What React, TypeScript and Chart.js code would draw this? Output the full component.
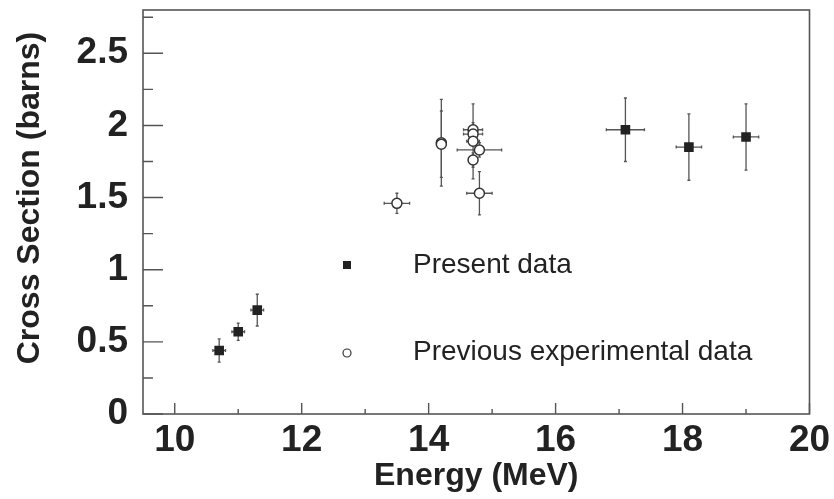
import React, { useEffect, useRef } from "react";
import { Chart, registerables } from "chart.js";

Chart.register(...registerables);

// ---- Data ----
const presentEnergy = [10.7, 11.0, 11.3, 17.1, 18.1, 19.0];
const presentXs = [0.44, 0.57, 0.72, 1.97, 1.85, 1.92];
const presentEnergyErr = [0.1, 0.1, 0.1, 0.3, 0.2, 0.2];
const presentXsErr = [0.08, 0.06, 0.11, 0.22, 0.23, 0.23];

const previousEnergy = [13.5, 14.2, 14.2, 14.7, 14.7, 14.7, 14.7, 14.8, 14.8];
const previousXs = [1.46, 1.88, 1.87, 1.97, 1.94, 1.89, 1.76, 1.83, 1.53];
const previousEnergyErr = [0.2, 0.05, 0.05, 0.15, 0.15, 0.1, 0.05, 0.35, 0.2];
const previousXsErr = [0.07, 0.3, 0.23, 0.05, 0.05, 0.26, 0.05, 0.05, 0.15];

const xTickValues = [10, 12, 14, 16, 18, 20];
const yTickValues = [0, 0.5, 1, 1.5, 2, 2.5];

const legendLabels = ["Present data", "Previous experimental data"];
const xTitle = "Energy (MeV)";
const yTitle = "Cross Section (barns)";

const FONT = "'Liberation Sans', Arial, Helvetica, sans-serif";
const INK = "#222";
const LINE = "#555";

const errorBarPlugin = {
  id: "errorBars",
  beforeDatasetsDraw(chart: any) {
    const ctx = chart.ctx;
    const xs = chart.scales.x;
    const ys = chart.scales.y;
    ctx.save();
    ctx.strokeStyle = LINE;
    ctx.lineWidth = 1.3;
    chart.data.datasets.forEach((ds: any) => {
      ds.data.forEach((p: any) => {
        const cx = xs.getPixelForValue(p.x);
        const cy = ys.getPixelForValue(p.y);
        const x1 = xs.getPixelForValue(p.x - p.xErr);
        const x2 = xs.getPixelForValue(p.x + p.xErr);
        const y1 = ys.getPixelForValue(p.y - p.yErr);
        const y2 = ys.getPixelForValue(p.y + p.yErr);
        ctx.beginPath();
        ctx.moveTo(x1, cy);
        ctx.lineTo(x2, cy);
        ctx.moveTo(cx, y1);
        ctx.lineTo(cx, y2);
        ctx.moveTo(x1, cy - 1.5);
        ctx.lineTo(x1, cy + 1.5);
        ctx.moveTo(x2, cy - 1.5);
        ctx.lineTo(x2, cy + 1.5);
        ctx.moveTo(cx - 1.5, y1);
        ctx.lineTo(cx + 1.5, y1);
        ctx.moveTo(cx - 1.5, y2);
        ctx.lineTo(cx + 1.5, y2);
        ctx.stroke();
      });
    });
    ctx.restore();
  },
};

const frameTicksPlugin = {
  id: "frameTicks",
  afterDraw(chart: any) {
    const ctx = chart.ctx;
    const { left, right, top, bottom } = chart.chartArea;
    const xs = chart.scales.x;
    const ys = chart.scales.y;
    ctx.save();
    ctx.strokeStyle = LINE;
    ctx.lineWidth = 1.6;
    ctx.strokeRect(left, top, right - left, bottom - top);
    ctx.lineWidth = 1.4;
    ctx.beginPath();
    const xt = xs.ticks.map((t: any) => t.value);
    xt.forEach((v: number, i: number) => {
      const px = xs.getPixelForValue(v);
      ctx.moveTo(px, bottom);
      ctx.lineTo(px, bottom - 11);
      if (i < xt.length - 1) {
        const mx = xs.getPixelForValue((v + xt[i + 1]) / 2);
        ctx.moveTo(mx, bottom);
        ctx.lineTo(mx, bottom - 5);
      }
    });
    const yt = ys.ticks.map((t: any) => t.value);
    const step = yt[1] - yt[0];
    yt.forEach((v: number) => {
      const py = ys.getPixelForValue(v);
      ctx.moveTo(left, py);
      ctx.lineTo(left + 20, py);
      const mv = v + step / 2;
      if (mv < ys.max) {
        const my = ys.getPixelForValue(mv);
        ctx.moveTo(left, my);
        ctx.lineTo(left + 10, my);
      }
    });
    ctx.stroke();

    // y axis title
    ctx.save();
    ctx.translate(30, top + 188);
    ctx.rotate(-Math.PI / 2);
    ctx.fillStyle = INK;
    ctx.font = `bold 32px ${FONT}`;
    ctx.textAlign = "center";
    ctx.textBaseline = "middle";
    ctx.fillText(yTitle, 0, 0);
    ctx.restore();

    // legend
    const lx = left + 204;
    const ly1 = top + 255;
    const ly2 = top + 342;
    ctx.fillStyle = INK;
    ctx.fillRect(lx - 4, ly1 - 4, 8, 8);
    ctx.beginPath();
    ctx.arc(lx, ly2 + 1, 4, 0, Math.PI * 2);
    ctx.fillStyle = "#fff";
    ctx.fill();
    ctx.strokeStyle = "#333";
    ctx.lineWidth = 1.2;
    ctx.stroke();
    ctx.fillStyle = INK;
    ctx.font = `28px ${FONT}`;
    ctx.textAlign = "left";
    ctx.textBaseline = "middle";
    ctx.fillText(legendLabels[0], lx + 66, ly1);
    ctx.fillText(legendLabels[1], lx + 66, ly2);
    ctx.restore();
  },
};

export default function App() {
  const canvasRef = useRef<HTMLCanvasElement | null>(null);

  useEffect(() => {
    document.body.style.margin = "0";
    const canvas = canvasRef.current;
    if (!canvas) return;

    const present = presentEnergy.map((x, i) => ({
      x,
      y: presentXs[i],
      xErr: presentEnergyErr[i],
      yErr: presentXsErr[i],
    }));
    const previous = previousEnergy.map((x, i) => ({
      x,
      y: previousXs[i],
      xErr: previousEnergyErr[i],
      yErr: previousXsErr[i],
    }));

    const chart = new Chart(canvas, {
      type: "scatter",
      data: {
        datasets: [
          {
            label: legendLabels[0],
            data: present,
            pointStyle: "rect",
            pointRadius: 6.8,
            pointBackgroundColor: INK,
            pointBorderColor: INK,
            pointBorderWidth: 0,
            showLine: false,
          },
          {
            label: legendLabels[1],
            data: previous,
            pointStyle: "circle",
            pointRadius: 5,
            pointBackgroundColor: "#fff",
            pointBorderColor: "#333",
            pointBorderWidth: 1.5,
            showLine: false,
          },
        ],
      } as any,
      options: {
        animation: false,
        responsive: false,
        maintainAspectRatio: false,
        layout: { padding: { top: 10, right: 24.5, left: 0, bottom: 0 } },
        plugins: {
          legend: { display: false },
          tooltip: { enabled: false },
        },
        scales: {
          x: {
            type: "linear",
            min: 9.5,
            max: 20,
            grid: { display: false, drawTicks: false },
            border: { display: false },
            afterBuildTicks: (s: any) => {
              s.ticks = xTickValues.map((v) => ({ value: v }));
            },
            afterFit: (s: any) => {
              s.height = 85;
              s.paddingLeft = 0;
              s.paddingRight = 0;
            },
            ticks: {
              maxRotation: 0,
              autoSkip: false,
              padding: 5,
              color: INK,
              font: { family: FONT, size: 37, weight: "bold" },
              callback: (v: any) => String(v),
            },
            title: {
              display: true,
              text: xTitle,
              color: INK,
              font: { family: FONT, size: 32, weight: "bold" },
              padding: { top: 0, bottom: 4 },
            },
          },
          y: {
            type: "linear",
            min: 0,
            max: 2.8,
            grid: { display: false, drawTicks: false },
            border: { display: false },
            afterBuildTicks: (s: any) => {
              s.ticks = yTickValues.map((v) => ({ value: v }));
            },
            afterFit: (s: any) => {
              s.width = 143;
              s.paddingTop = 0;
              s.paddingBottom = 0;
            },
            ticks: {
              autoSkip: false,
              padding: 15,
              color: INK,
              font: { family: FONT, size: 37, weight: "bold" },
              callback: (v: any) => String(v),
            },
            title: { display: false },
          },
        },
      } as any,
      plugins: [errorBarPlugin, frameTicksPlugin],
    });

    return () => chart.destroy();
  }, []);

  return (
    <div style={{ width: 834, height: 499, background: "#fff" }}>
      <canvas ref={canvasRef} width={834} height={499} style={{ display: "block" }} />
    </div>
  );
}
